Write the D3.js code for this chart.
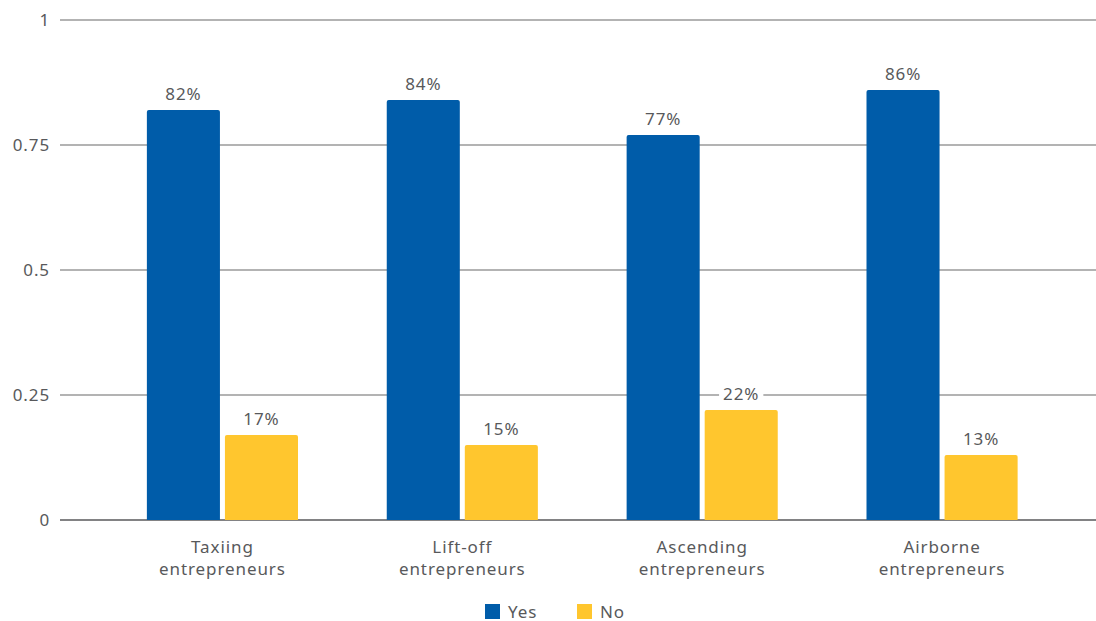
<!DOCTYPE html>
<html lang="en">
<head>
    <meta charset="UTF-8">
    <title>Entrepreneurs chart</title>
    <script src="https://d3js.org/d3.v7.min.js"></script>
    <style>
        body {
            margin: 0;
            background: #fff;
            font-family: "Noto Sans", sans-serif;
        }
        text {
            fill: #58595b;
            font-size: 17px;
            letter-spacing: 0.9px;
        }
    </style>
</head>
<body>
    <div id="container"></div>

    <script>
        // Data
        const categories = [["Taxiing", "entrepreneurs"], ["Lift-off", "entrepreneurs"], ["Ascending", "entrepreneurs"], ["Airborne", "entrepreneurs"]];
        const seriesNames = ["Yes", "No"];
        const yesValues = [0.82, 0.84, 0.77, 0.86];
        const noValues = [0.17, 0.15, 0.22, 0.13];
        const yTicks = [0, 0.25, 0.5, 0.75, 1];
        const tickLabels = ["0", "0.25", "0.5", "0.75", "1"];

        const colors = {Yes: "#005ca9", No: "#ffc62e"};

        const width = 1096, height = 621;
        const svg = d3.select('#container').append('svg')
            .attr('width', width)
            .attr('height', height);

        const keys = categories.map(c => c.join(' '));

        // Scales
        const y = d3.scaleLinear().domain([0, 1]).range([520, 20]);

        const x0 = d3.scaleBand()
            .domain(keys)
            .range([102.5, 1062])
            .paddingInner(0.37)
            .paddingOuter(0.185);

        const x1 = d3.scaleBand()
            .domain(seriesNames)
            .range([0, x0.bandwidth()])
            .paddingInner(0.064);

        // Gridlines
        svg.selectAll('.grid')
            .data(yTicks)
            .enter()
            .append('line')
            .attr('x1', 60)
            .attr('x2', width)
            .attr('y1', d => y(d))
            .attr('y2', d => y(d))
            .attr('stroke', d => d === 0 ? '#58595b' : '#9a9a9a')
            .attr('stroke-width', 1.3);

        // Y tick labels
        svg.selectAll('.ytick')
            .data(yTicks)
            .enter()
            .append('text')
            .attr('x', 50)
            .attr('y', d => y(d))
            .attr('dy', '0.35em')
            .attr('text-anchor', 'end')
            .text((d, i) => tickLabels[i]);

        // Flatten data
        const rows = [];
        keys.forEach((k, i) => {
            rows.push({cat: k, series: 'Yes', value: yesValues[i]});
            rows.push({cat: k, series: 'No', value: noValues[i]});
        });

        // Bars with slightly rounded tops
        const r = 2;
        svg.selectAll('.bar')
            .data(rows)
            .enter()
            .append('path')
            .attr('class', 'bar')
            .attr('fill', d => colors[d.series])
            .attr('d', d => {
                const bx = x0(d.cat) + x1(d.series);
                const bw = x1.bandwidth();
                const top = y(d.value);
                const bottom = y(0);
                return `M${bx},${bottom} L${bx},${top + r} Q${bx},${top} ${bx + r},${top}` +
                       ` L${bx + bw - r},${top} Q${bx + bw},${top} ${bx + bw},${top + r}` +
                       ` L${bx + bw},${bottom} Z`;
            });

        // Value labels with white background
        const labels = svg.selectAll('.lbl')
            .data(rows)
            .enter()
            .append('g')
            .attr('transform', d => `translate(${x0(d.cat) + x1(d.series) + x1.bandwidth() / 2},${y(d.value) - 10})`);

        labels.append('rect')
            .attr('fill', '#fff');

        labels.append('text')
            .attr('text-anchor', 'middle')
            .text(d => Math.round(d.value * 100) + '%');

        labels.each(function() {
            const g = d3.select(this);
            const bb = g.select('text').node().getBBox();
            g.select('rect')
                .attr('x', bb.x - 4)
                .attr('y', bb.y)
                .attr('width', bb.width + 8)
                .attr('height', bb.height);
        });

        // Category labels
        const cat = svg.selectAll('.cat')
            .data(categories)
            .enter()
            .append('text')
            .attr('text-anchor', 'middle')
            .attr('transform', (d, i) => `translate(${x0(keys[i]) + x0.bandwidth() / 2},553)`);

        cat.selectAll('tspan')
            .data(d => d)
            .enter()
            .append('tspan')
            .attr('x', 0)
            .attr('dy', (d, i) => i === 0 ? 0 : 22)
            .text(d => d);

        // Legend
        const legendX = [485, 577];
        const legend = svg.selectAll('.legend')
            .data(seriesNames)
            .enter()
            .append('g')
            .attr('transform', (d, i) => `translate(${legendX[i]},604)`);

        legend.append('rect')
            .attr('width', 15)
            .attr('height', 15)
            .attr('fill', d => colors[d]);

        legend.append('text')
            .attr('x', 23)
            .attr('y', 13.5)
            .text(d => d);
    </script>
</body>
</html>
